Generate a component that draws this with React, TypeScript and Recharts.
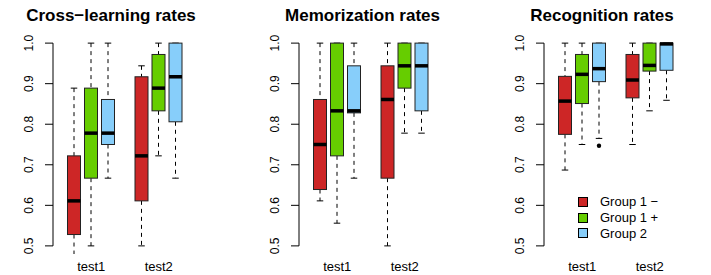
import React from 'react';
import { BarChart, Bar, XAxis, YAxis, ReferenceLine, Legend } from 'recharts';

const categories = ['test1', 'test2'];
const groupNames = ['Group 1 \u2212', 'Group 1 +', 'Group 2'];
const groupColors = ['#CD2626', '#66CD00', '#87CEFA'];
const yTicks = [0.5, 0.6, 0.7, 0.8, 0.9, 1.0];
const titles = ['Cross\u2212learning rates', 'Memorization rates', 'Recognition rates'];

// values indexed [group][test]
const crossLow = [[0.444, 0.5], [0.5, 0.722], [0.667, 0.667]];
const crossQ1 = [[0.528, 0.611], [0.667, 0.833], [0.75, 0.806]];
const crossMed = [[0.611, 0.722], [0.778, 0.889], [0.778, 0.917]];
const crossQ3 = [[0.722, 0.917], [0.889, 0.972], [0.861, 1.0]];
const crossHigh = [[0.889, 0.944], [1.0, 1.0], [1.0, 1.0]];
const crossOut: number[][][] = [[[], []], [[], []], [[], []]];

const memoLow = [[0.611, 0.5], [0.556, 0.778], [0.667, 0.778]];
const memoQ1 = [[0.639, 0.667], [0.722, 0.889], [0.828, 0.833]];
const memoMed = [[0.75, 0.861], [0.833, 0.944], [0.833, 0.944]];
const memoQ3 = [[0.861, 0.944], [1.0, 1.0], [0.944, 1.0]];
const memoHigh = [[1.0, 1.0], [1.0, 1.0], [1.0, 1.0]];
const memoOut: number[][][] = [[[], []], [[], []], [[], []]];

const recoLow = [[0.687, 0.75], [0.75, 0.833], [0.765, 0.859]];
const recoQ1 = [[0.775, 0.865], [0.851, 0.931], [0.905, 0.933]];
const recoMed = [[0.857, 0.909], [0.923, 0.945], [0.937, 0.998]];
const recoQ3 = [[0.918, 0.972], [0.972, 1.0], [1.0, 1.0]];
const recoHigh = [[1.0, 1.0], [1.0, 1.0], [1.0, 1.0]];
const recoOut: number[][][] = [[[], []], [[], []], [[0.747], []]];

const FONT = '"Liberation Sans", Arial, Helvetica, sans-serif';

type Stats = { low: number; q1: number; med: number; q3: number; high: number; out: number[] };

function buildRows(low: number[][], q1: number[][], med: number[][], q3: number[][], high: number[][], out: number[][][]) {
  return categories.map((c, ti) => {
    const row: any = { test: c, stats: [] as Stats[] };
    groupNames.forEach((_, gi) => {
      row.stats.push({ low: low[gi][ti], q1: q1[gi][ti], med: med[gi][ti], q3: q3[gi][ti], high: high[gi][ti], out: out[gi][ti] });
      row['g' + gi] = [q1[gi][ti], q3[gi][ti]];
    });
    return row;
  });
}

const panels = [
  { title: titles[0], rows: buildRows(crossLow, crossQ1, crossMed, crossQ3, crossHigh, crossOut), left: 0, titleCenter: 111 },
  { title: titles[1], rows: buildRows(memoLow, memoQ1, memoMed, memoQ3, memoHigh, memoOut), left: 246, titleCenter: 362.5 },
  { title: titles[2], rows: buildRows(recoLow, recoQ1, recoMed, recoQ3, recoHigh, recoOut), left: 491, titleCenter: 602 },
];

const makeShape = (gi: number) => (props: any) => {
  const { x, y, width, height, payload } = props;
  const s: Stats = payload.stats[gi];
  const py = (v: number) => y + ((s.q3 - v) / (s.q3 - s.q1)) * height;
  const cx = x + width / 2;
  const sw = width / 4;
  return (
    <g>
      <line x1={cx} x2={cx} y1={py(s.high)} y2={py(s.q3)} stroke="#000" strokeDasharray="4 4" />
      <line x1={cx} x2={cx} y1={py(s.q1)} y2={py(s.low)} stroke="#000" strokeDasharray="4 4" />
      <line x1={cx - sw} x2={cx + sw} y1={py(s.high)} y2={py(s.high)} stroke="#000" />
      <line x1={cx - sw} x2={cx + sw} y1={py(s.low)} y2={py(s.low)} stroke="#000" />
      <rect x={x} y={y} width={width} height={height} fill={groupColors[gi]} stroke="#222" strokeWidth={1} />
      <line x1={x} x2={x + width} y1={py(s.med)} y2={py(s.med)} stroke="#000" strokeWidth={3.5} />
      {s.out.map((o, k) => (
        <circle key={k} cx={cx} cy={py(o)} r={2.2} fill="#000" />
      ))}
    </g>
  );
};

const YTick = (props: any) => {
  const { x, y, payload } = props;
  const cx = x - 14;
  return (
    <text x={cx} y={y} transform={`rotate(-90, ${cx}, ${y})`} textAnchor="middle" dominantBaseline="central" fontSize={12} fill="#000" fontFamily={FONT}>
      {Number(payload.value).toFixed(1)}
    </text>
  );
};

const LegendContent = () => (
  <div style={{ fontFamily: FONT }}>
    {groupNames.map((n, i) => (
      <div key={n} style={{ display: 'flex', alignItems: 'center', height: 15.7 }}>
        <span style={{ display: 'inline-block', width: 8, height: 8, background: groupColors[i], border: '1px solid #000', marginRight: 12 }} />
        <span style={{ fontSize: 13, color: '#000', lineHeight: '15px' }}>{n}</span>
      </div>
    ))}
  </div>
);

export default function App() {
  return (
    <div style={{ position: 'absolute', left: 0, top: 0, width: 711, height: 275, background: '#fff', fontFamily: FONT, overflow: 'hidden' }}>
      {panels.map((p, pi) => (
        <React.Fragment key={pi}>
          <div style={{ position: 'absolute', left: p.titleCenter - 120, width: 240, top: 7, textAlign: 'center', fontWeight: 'bold', fontSize: 17, lineHeight: '17px', color: '#000', whiteSpace: 'nowrap' }}>
            {p.title}
          </div>
          <div style={{ position: 'absolute', left: p.left, top: 0 }}>
            <BarChart width={237} height={275} data={p.rows} margin={{ top: 35, right: 40, bottom: 0, left: 8 }} barSize={13} barGap={4}>
              <XAxis xAxisId="cat" dataKey="test" axisLine={false} tickLine={false} height={21} padding={{ left: 4.5, right: 4.5 }} interval={0} tick={{ fontSize: 13, fill: '#000', fontFamily: FONT }} />
              <XAxis xAxisId="num" type="number" domain={[0, 1]} allowDataOverflow hide />
              <YAxis domain={[0.48, 1.02]} allowDataOverflow ticks={yTicks} interval={0} width={45} axisLine={false} tickSize={8} stroke="#000" tickLine={{ stroke: '#000' }} tick={<YTick />} />
              <ReferenceLine xAxisId="num" segment={[{ x: 0, y: 0.5 }, { x: 0, y: 1.0 }]} stroke="#000" strokeWidth={1} ifOverflow="visible" />
              {groupNames.map((n, gi) => (
                <Bar key={n} xAxisId="cat" dataKey={'g' + gi} name={n} fill={groupColors[gi]} shape={makeShape(gi)} isAnimationActive={false} />
              ))}
              {pi === 2 && (
                <Legend layout="vertical" align="center" verticalAlign="middle" content={<LegendContent />} wrapperStyle={{ position: 'absolute', left: 87, top: 194, width: 130, height: 50 }} />
              )}
            </BarChart>
          </div>
        </React.Fragment>
      ))}
    </div>
  );
}
